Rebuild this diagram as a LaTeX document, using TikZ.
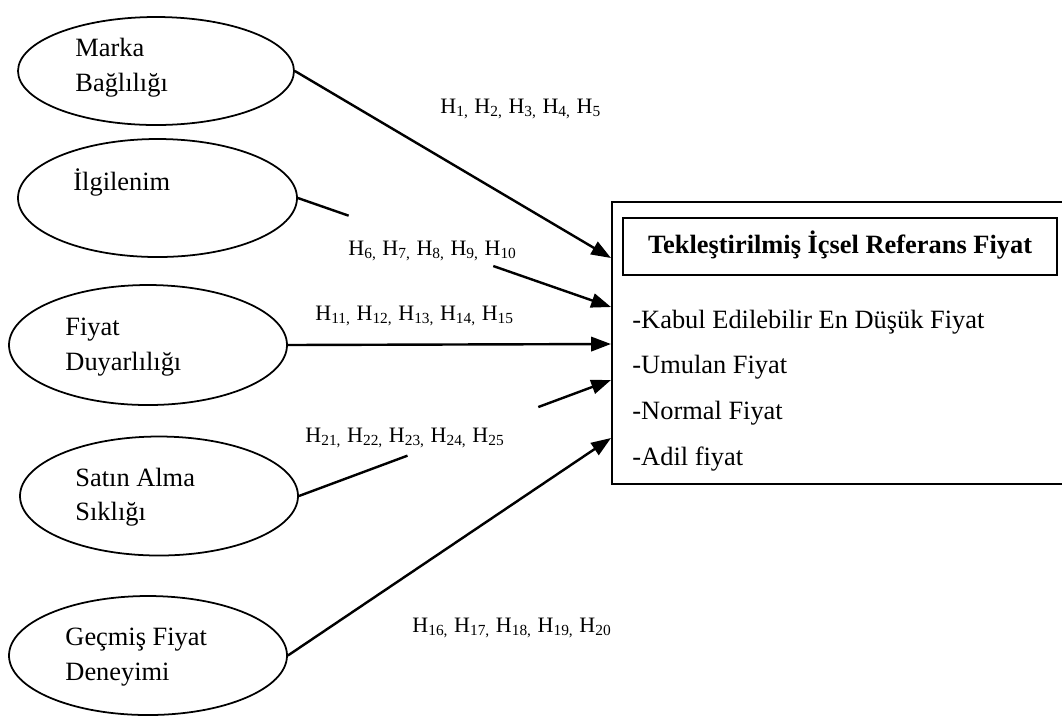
\documentclass[tikz,border=0pt]{standalone}
\usepackage{fontspec}
\setmainfont{Liberation Serif}
\usetikzlibrary{shapes.geometric,arrows.meta,calc}
\newcommand{\hsub}[1]{H\textsubscript{#1}}
\def\px{0.4545pt}
\begin{document}
\begin{tikzpicture}[x=0.4545pt,y=-0.4545pt,
  ell/.style={draw,ellipse,line width=0.8pt,inner sep=0pt},
  txt/.style={anchor=base west,inner sep=0pt,font=\fontsize{12}{14}\selectfont},
  lbl/.style={anchor=base west,inner sep=0pt,font=\fontsize{10}{12}\selectfont},
  arr/.style={line width=1.1pt,-{Triangle[length=9pt,width=6.5pt]}},
  seg/.style={line width=1.1pt},
  boxline/.style={draw,line width=0.7pt,inner sep=0pt}]
\useasboundingbox (0,0) rectangle (1062,716);

% ellipses
\node[ell,minimum width=276*\px,minimum height=108*\px] (e1) at (156,71) {};
\node[ell,minimum width=279*\px,minimum height=118*\px] (e2) at (157.5,198) {};
\node[ell,minimum width=278*\px,minimum height=120*\px] (e3) at (148,345) {};
\node[ell,minimum width=278*\px,minimum height=119*\px] (e4) at (159,496) {};
\node[ell,minimum width=278*\px,minimum height=119*\px] (e5) at (148,655.5) {};

% ellipse texts
\node[txt] (t1a) at (75,56) {Marka};
\node[txt] (t1b) at (75,91) {Bağlılığı};
\node[txt] (t2) at (73,190) {İlgilenim};
\node[txt] (t3a) at (65,335) {Fiyat};
\node[txt] (t3b) at (65,370) {Duyarlılığı};
\node[txt] (t4a) at (75,486) {Satın Alma};
\node[txt] (t4b) at (75,520) {Sıklığı};
\node[txt] (t5a) at (65,645) {Geçmiş Fiyat};
\node[txt] (t5b) at (65,680) {Deneyimi};

% target box
\node[boxline,anchor=north west,minimum width=453*\px,minimum height=282*\px] (box) at (611,201) {};
\node[boxline,minimum width=434*\px,minimum height=57*\px] (tbox) at (840,246.5) {};
\node[anchor=base,inner sep=0pt,font=\fontsize{12}{14}\selectfont\bfseries] (title) at (840,253) {Tekleştirilmiş İçsel Referans Fiyat};
\node[txt] (l1) at (632,328) {-Kabul Edilebilir En Düşük Fiyat};
\node[txt] (l2) at (632,373) {-Umulan Fiyat};
\node[txt] (l3) at (632,419) {-Normal Fiyat};
\node[txt] (l4) at (632,465) {-Adil fiyat};

% arrow ends on the box
\coordinate (p1) at ($(box.north west)+(0,57)$);
\coordinate (p2) at ($(box.north west)+(0,106)$);
\coordinate (p3) at ($(box.north west)+(0,143)$);
\coordinate (p4) at ($(box.north west)+(0,179)$);
\coordinate (p5) at ($(box.north west)+(0,237)$);

% connectors
\draw[arr] (e1.east) -- (p1);
\draw[seg] (e2.east) -- ($(e2.east)!0.162!(p2)$);
\draw[arr] ($(e2.east)!0.624!(p2)$) -- (p2);
\draw[arr] (e3.east) -- (p3);
\draw[seg] (e4.east) -- ($(e4.east)!0.348!(p4)$);
\draw[arr] ($(e4.east)!0.767!(p4)$) -- (p4);
\draw[arr] (e5.east) -- (p5);

% labels
\node[lbl] (h1) at (440,113) {\hsub{1,} \hsub{2,} \hsub{3,} \hsub{4,} \hsub{5}};
\node[lbl] (h6) at (348,255) {\hsub{6,} \hsub{7,} \hsub{8,} \hsub{9,} \hsub{10}};
\node[lbl] (h11) at (315,320) {\hsub{11,} \hsub{12,} \hsub{13,} \hsub{14,} \hsub{15}};
\node[lbl] (h21) at (305,442) {\hsub{21,} \hsub{22,} \hsub{23,} \hsub{24,} \hsub{25}};
\node[lbl] (h16) at (412,632) {\hsub{16,} \hsub{17,} \hsub{18,} \hsub{19,} \hsub{20}};
\end{tikzpicture}
\end{document}
